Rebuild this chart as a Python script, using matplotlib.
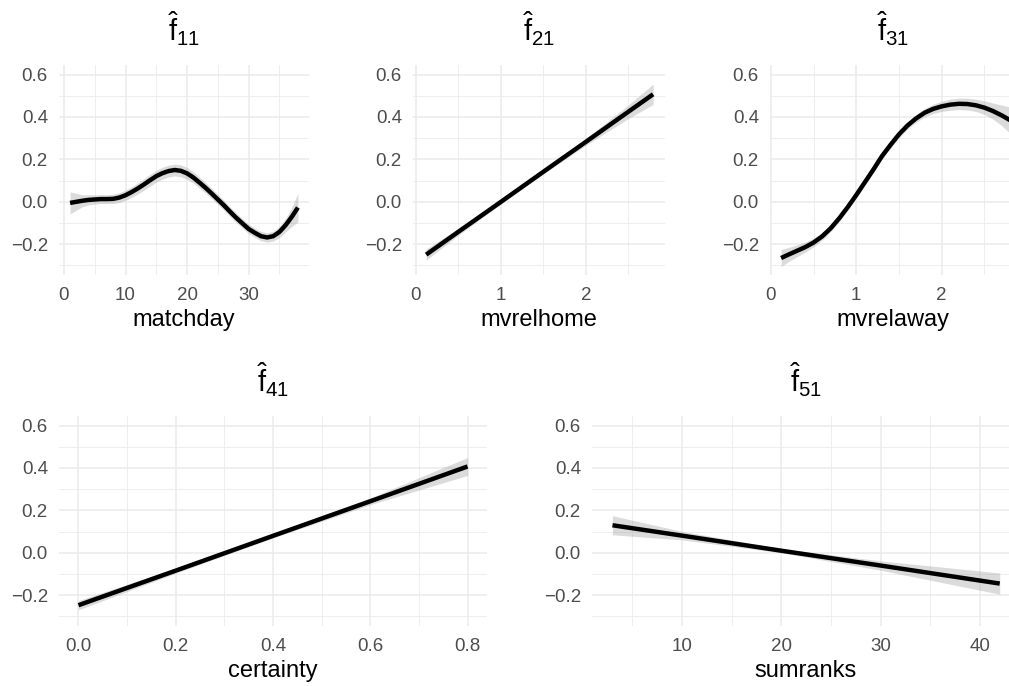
import numpy as np
import matplotlib
matplotlib.use("Agg")
import matplotlib.pyplot as plt
from matplotlib.ticker import MultipleLocator

plt.rcParams.update({
    "font.family": "Liberation Sans",
    "mathtext.fontset": "custom",
    "mathtext.rm": "Liberation Sans",
    "mathtext.it": "Liberation Sans:italic",
    "mathtext.bf": "Liberation Sans:bold",
})

# --- smooth term estimates (fit, half-width of band) ---
matchday_x = list(range(1, 39))
matchday_y = [-0.005, 0.000, 0.005, 0.009, 0.011, 0.013, 0.013, 0.014, 0.020, 0.031,
              0.046, 0.063, 0.082, 0.102, 0.121, 0.135, 0.145, 0.150, 0.146, 0.134,
              0.115, 0.091, 0.066, 0.039, 0.011, -0.017, -0.047, -0.076, -0.102, -0.128,
              -0.146, -0.162, -0.168, -0.162, -0.142, -0.110, -0.071, -0.027]
matchday_se = [0.052, 0.040, 0.028, 0.024, 0.022, 0.021, 0.021, 0.022, 0.023, 0.024,
               0.025, 0.026, 0.027, 0.028, 0.028, 0.028, 0.028, 0.028, 0.028, 0.028,
               0.027, 0.026, 0.025, 0.024, 0.023, 0.023, 0.022, 0.022, 0.022, 0.022,
               0.022, 0.022, 0.022, 0.023, 0.026, 0.032, 0.045, 0.068]

mvrelhome_x = [0.12, 0.5, 1.0, 1.5, 2.0, 2.5, 2.79]
mvrelhome_y = [-0.249, -0.141, 0.000, 0.142, 0.283, 0.425, 0.507]
mvrelhome_se = [0.026, 0.016, 0.010, 0.010, 0.016, 0.032, 0.048]

mvrelaway_x = [0.12, 0.2, 0.3, 0.4, 0.5, 0.6, 0.7, 0.8, 0.9, 1.0, 1.1, 1.2, 1.3, 1.4, 1.5,
               1.6, 1.7, 1.8, 1.9, 2.0, 2.1, 2.2, 2.3, 2.4, 2.5, 2.6, 2.7, 2.8, 2.87]
mvrelaway_y = [-0.265, -0.250, -0.232, -0.214, -0.192, -0.163, -0.125, -0.078, -0.025, 0.032,
               0.092, 0.152, 0.215, 0.268, 0.318, 0.360, 0.393, 0.420, 0.438, 0.450,
               0.458, 0.462, 0.461, 0.455, 0.444, 0.428, 0.408, 0.385, 0.366]
mvrelaway_se = [0.040, 0.034, 0.028, 0.024, 0.020, 0.018, 0.016, 0.015, 0.015, 0.015,
                0.015, 0.015, 0.015, 0.016, 0.016, 0.017, 0.018, 0.020, 0.022, 0.024,
                0.026, 0.027, 0.028, 0.029, 0.032, 0.038, 0.048, 0.062, 0.072]

certainty_x = [0.0, 0.2, 0.4, 0.6, 0.8]
certainty_y = [-0.247, -0.084, 0.080, 0.243, 0.407]
certainty_se = [0.022, 0.012, 0.010, 0.016, 0.042]

sumranks_x = [3, 10, 20, 30, 42]
sumranks_y = [0.130, 0.081, 0.010, -0.060, -0.145]
sumranks_se = [0.045, 0.020, 0.010, 0.022, 0.050]

W, H = 1009, 686
fig = plt.figure(figsize=(W / 100, H / 100), dpi=100)


def add_panel(left, right, top, bottom):
    return fig.add_axes([left / W, 1 - bottom / H, (right - left) / W, (bottom - top) / H])


def style(ax, title, xlabel, xlim, xmajor, xminor):
    ax.set_facecolor("white")
    for s in ax.spines.values():
        s.set_visible(False)
    ax.set_xlim(*xlim)
    ax.set_ylim(-0.345, 0.645)
    ax.xaxis.set_major_locator(MultipleLocator(xmajor))
    ax.xaxis.set_minor_locator(MultipleLocator(xminor))
    ax.yaxis.set_major_locator(MultipleLocator(0.2))
    ax.yaxis.set_minor_locator(MultipleLocator(0.1))
    ax.grid(True, which="major", color="#EBEBEB", lw=1.1, zorder=0)
    ax.grid(True, which="minor", color="#EBEBEB", lw=0.6, zorder=0)
    ax.set_axisbelow(True)
    ax.tick_params(which="both", length=0, labelsize=13.5, colors="#4D4D4D")
    ax.tick_params(axis="x", pad=8.5)
    ax.tick_params(axis="y", pad=8)
    ax.set_xlabel(xlabel, fontsize=17, color="black", labelpad=4)
    ax.set_title(title, fontsize=21, pad=17)


def draw(ax, x, y, se):
    x = np.array(x)
    y = np.array(y)
    se = np.array(se)
    ax.fill_between(x, y - se, y + se, color="#999999", alpha=0.35, lw=0, zorder=2)
    ax.plot(x, y, color="black", lw=3.2, solid_capstyle="butt",
            solid_joinstyle="round", zorder=3)


ax1 = add_panel(59, 309, 65, 275)
style(ax1, r"$\hat{\mathrm{f}}_{11}$", "matchday", (-0.8, 39.8), 10, 5)
draw(ax1, matchday_x, matchday_y, matchday_se)

ax2 = add_panel(413, 665, 65, 275)
style(ax2, r"$\hat{\mathrm{f}}_{21}$", "mvrelhome", (-0.035, 2.93), 1, 0.5)
draw(ax2, mvrelhome_x, mvrelhome_y, mvrelhome_se)

ax3 = add_panel(770, 1016, 65, 275)
style(ax3, r"$\hat{\mathrm{f}}_{31}$", "mvrelaway", (-0.01, 2.87), 1, 0.5)
draw(ax3, mvrelaway_x, mvrelaway_y, mvrelaway_se)

ax4 = add_panel(59, 487, 416, 626)
style(ax4, r"$\hat{\mathrm{f}}_{41}$", "certainty", (-0.04, 0.84), 0.2, 0.1)
ax4.xaxis.set_major_formatter(lambda v, p: f"{v:.1f}")
draw(ax4, certainty_x, certainty_y, certainty_se)

ax5 = add_panel(592, 1019, 416, 626)
style(ax5, r"$\hat{\mathrm{f}}_{51}$", "sumranks", (0.94, 43.94), 10, 5)
draw(ax5, sumranks_x, sumranks_y, sumranks_se)

for ax in (ax1, ax2, ax3, ax4, ax5):
    ax.yaxis.set_major_formatter(lambda v, p: f"{v:.1f}".replace("-", "\u2212"))

fig.savefig("out.png", dpi=100, facecolor="white")
